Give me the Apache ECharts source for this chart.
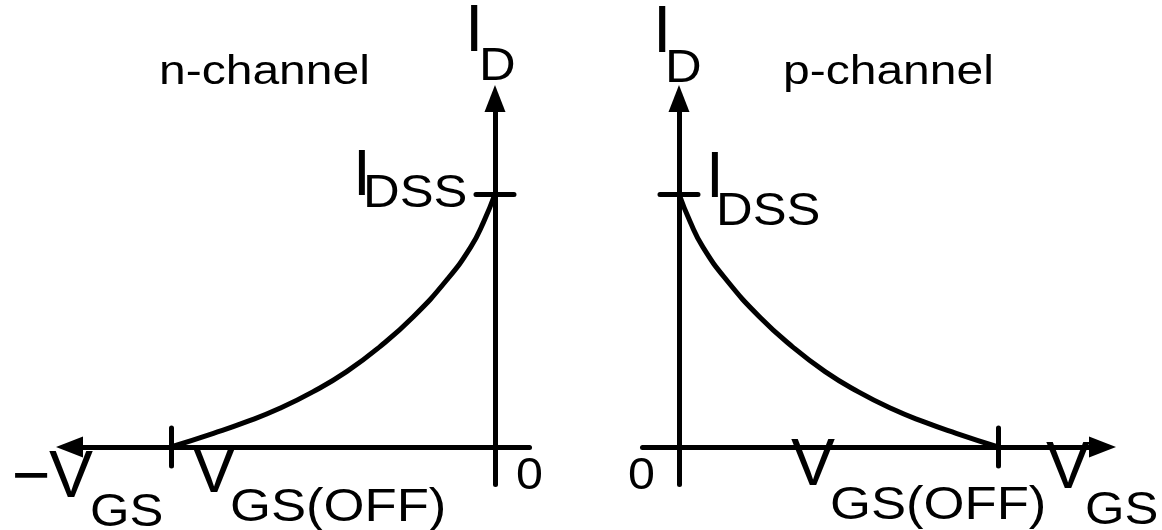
<!DOCTYPE html>
<html>
<head>
<meta charset="utf-8">
<script src="https://cdn.jsdelivr.net/npm/echarts@6/dist/echarts.min.js"></script>
<style>
html, body { margin: 0; padding: 0; background: #fff; }
#chart { width: 1162px; height: 530px; }
</style>
</head>
<body>
<div id="chart"></div>
<script>
// JFET transfer characteristics, V_GS normalised to |V_GS(OFF)|, I_D normalised to I_DSS
const vgsN = [-1, -0.869, -0.766, -0.664, -0.561, -0.458, -0.355, -0.252, -0.149, -0.075, -0.035, 0];
const idN  = [0, 0.054, 0.100, 0.153, 0.219, 0.298, 0.397, 0.515, 0.660, 0.790, 0.890, 1];
const vgsP = [0, 0.035, 0.075, 0.149, 0.252, 0.355, 0.458, 0.561, 0.664, 0.766, 0.869, 1];
const idP  = [1, 0.890, 0.790, 0.660, 0.515, 0.397, 0.298, 0.219, 0.153, 0.100, 0.054, 0];

// marked points on the axes
const vgsOffN = [-1];
const vgsOffP = [1];
const idssTick = [1];
const originTick = [0];

const FONT = '"Liberation Sans", Arial, Helvetica, sans-serif';
const INK = '#000';
const LW = 5;

function pairs(xs, ys) { return xs.map((x, i) => [x, ys[i]]); }

// one text run, placed by its left edge and baseline
function label(text, x, baseline, size, sx) {
  return {
    type: 'text',
    x: x,
    y: baseline - 0.3465 * size,
    scaleX: sx || 1,
    style: {
      text: text,
      fontSize: size,
      fontFamily: FONT,
      fill: INK,
      align: 'left',
      verticalAlign: 'middle'
    },
    silent: true
  };
}

function mainAxis(dim, range, startArrow, endArrow, ticks, gridIndex) {
  return {
    type: 'value',
    gridIndex: gridIndex,
    position: dim === 'x' ? 'bottom' : 'left',
    min: range[0],
    max: range[1],
    axisLine: {
      show: true,
      onZero: true,
      symbol: [startArrow ? 'triangle' : 'none', endArrow ? 'triangle' : 'none'],
      symbolSize: [21, 27],
      lineStyle: { color: INK, width: LW, cap: 'round' }
    },
    axisTick: {
      show: true, inside: true, length: 19,
      customValues: ticks,
      lineStyle: { color: INK, width: LW, cap: 'round' }
    },
    axisLabel: { show: false },
    splitLine: { show: false }
  };
}

// twin axis that carries the other half of each cross tick
function twinAxis(dim, range, ticks, gridIndex) {
  return {
    type: 'value',
    gridIndex: gridIndex,
    position: dim === 'x' ? 'bottom' : 'left',
    min: range[0],
    max: range[1],
    axisLine: { show: false, onZero: true },
    axisTick: {
      show: true, inside: false, length: 19,
      customValues: ticks,
      lineStyle: { color: INK, width: LW, cap: 'round' }
    },
    axisLabel: { show: false },
    splitLine: { show: false }
  };
}

const xRangeN = [-1.3133, 0.1065];
const xRangeP = [-0.1144, 1.3276];
const yRange = [-0.1482, 1.3775];

const chart = echarts.init(document.getElementById('chart'), null, { renderer: 'canvas' });

chart.setOption({
  animation: false,
  backgroundColor: '#fff',
  grid: [
    { left: 69.5, right: 632.5, top: 98.5, bottom: 45.5 },
    { left: 642.5, right: 59.5, top: 98.5, bottom: 45.5 }
  ],
  xAxis: [
    mainAxis('x', xRangeN, true, false, vgsOffN, 0),
    twinAxis('x', xRangeN, vgsOffN, 0),
    mainAxis('x', xRangeP, false, true, vgsOffP, 1),
    twinAxis('x', xRangeP, vgsOffP, 1)
  ],
  yAxis: [
    mainAxis('y', yRange, false, true, idssTick, 0),
    twinAxis('y', yRange, idssTick, 0),
    mainAxis('y', yRange, false, true, idssTick, 1),
    twinAxis('y', yRange, idssTick, 1)
  ],
  series: [
    {
      name: 'n-channel', type: 'line', xAxisIndex: 0, yAxisIndex: 0,
      data: pairs(vgsN, idN), smooth: 0.5, symbol: 'none',
      lineStyle: { color: INK, width: LW, cap: 'round' }, z: 3
    },
    {
      name: 'p-channel', type: 'line', xAxisIndex: 2, yAxisIndex: 2,
      data: pairs(vgsP, idP), smooth: 0.5, symbol: 'none',
      lineStyle: { color: INK, width: LW, cap: 'round' }, z: 3
    }
  ],
  graphic: [
    // n-channel panel
    label('n-channel', 159, 87, 40, 1.2),
    label('I', 465, 56, 66),
    label('D', 479, 83, 47, 1.08),
    label('I', 353, 200, 64),
    label('DSS', 363, 210, 47, 1.08),
    label('\u2212', 12, 502, 66),
    label('V', 49, 502, 66),
    label('GS', 90, 529, 47, 1.08),
    label('V', 192, 497, 66),
    label('GS(OFF)', 230, 524, 47, 1.12),
    label(String(originTick[0]), 516, 492, 44, 1.1),
    // p-channel panel
    label('p-channel', 783, 87, 40, 1.2),
    label('I', 653, 57, 66),
    label('D', 665, 85, 47, 1.08),
    label('I', 706, 202, 64),
    label('DSS', 716, 228, 47, 1.08),
    label('V', 791, 490, 66),
    label('GS(OFF)', 830, 522, 47, 1.12),
    label('V', 1046, 493, 66),
    label('GS', 1085, 527, 47, 1.08),
    label(String(originTick[0]), 628, 492, 44, 1.1)
  ]
});
</script>
</body>
</html>
